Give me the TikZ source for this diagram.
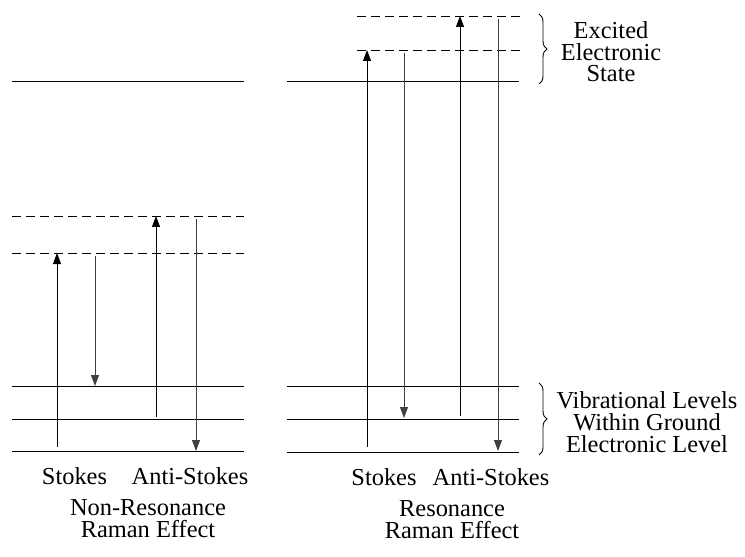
\documentclass[tikz,border=0pt]{standalone}
\usepackage{fontspec}
\setmainfont{Liberation Serif}
\usetikzlibrary{arrows.meta,decorations.pathreplacing}
\tikzset{
	lvl/.style={line width=1bp},
	virtual/.style={line width=0.8bp,dash pattern=on 9bp off 5bp},
	up/.style={line width=0.9bp,-{Triangle[width=8bp,length=11bp]}},
	down/.style={line width=0.8bp,black!75,-{Triangle[width=8bp,length=11bp]}},
	lbl/.style={inner sep=0pt,anchor=base,align=center,font=\fontsize{24.5}{22}\selectfont},
	brc/.style={decorate,decoration={brace,amplitude=8bp},line width=0.9bp}
}

\begin{document}
\begin{tikzpicture}[x=1bp,y=-1bp]
	\useasboundingbox (0,0) rectangle (745,557);
	
	%LEVELS
	%non-resonance
	\draw[lvl] (12, 82)--(244, 82);
	\draw[virtual] (12,216)--(244,216);
	\draw[virtual] (12,253)--(244,253);
	\foreach \y in {386,419,451} \draw[lvl] (12,\y)--(244,\y);
	%resonance
	\draw[lvl] (287, 82)--(519, 82);
	\draw[virtual] (357,16)--(520,16);
	\draw[virtual] (357,50)--(520,50);
	\foreach \y in {386,419,452} \draw[lvl] (287,\y)--(519,\y);
	
	%ARROWS
	%non-resonance
	\draw[up]   ( 57,447)--( 57,253);
	\draw[down] ( 95,256)--( 95,386);
	\draw[up]   (156,417)--(156,216);
	\draw[down] (196,219)--(196,451);
	%resonance
	\draw[up]   (367,447)--(367, 50);
	\draw[down] (404, 53)--(404,418);
	\draw[up]   (460,416)--(460, 16);
	\draw[down] (498, 19)--(498,451);
	
	%BRACES
	\draw[brc] (539, 14)--(539, 84);
	\draw[brc] (539,383)--(539,455);
	
	%LABELS (base = last line)
	\node[lbl] (exc) at (611, 82)  {Excited\\Electronic\\State};
	\node[lbl] (vib) at (647,452)  {Vibrational Levels\\Within Ground\\Electronic Level};
	\node[lbl] (stL) at (74.5,484) {Stokes};
	\node[lbl] (asL) at (190,484)  {Anti-Stokes};
	\node[lbl] (stR) at (384,485)  {Stokes};
	\node[lbl] (asR) at (491,485)  {Anti-Stokes};
	\node[lbl] (nonres) at (148,537) {Non-Resonance\\Raman Effect};
	\node[lbl] (res) at (452,538)  {Resonance\\Raman Effect};
\end{tikzpicture}
\end{document}
